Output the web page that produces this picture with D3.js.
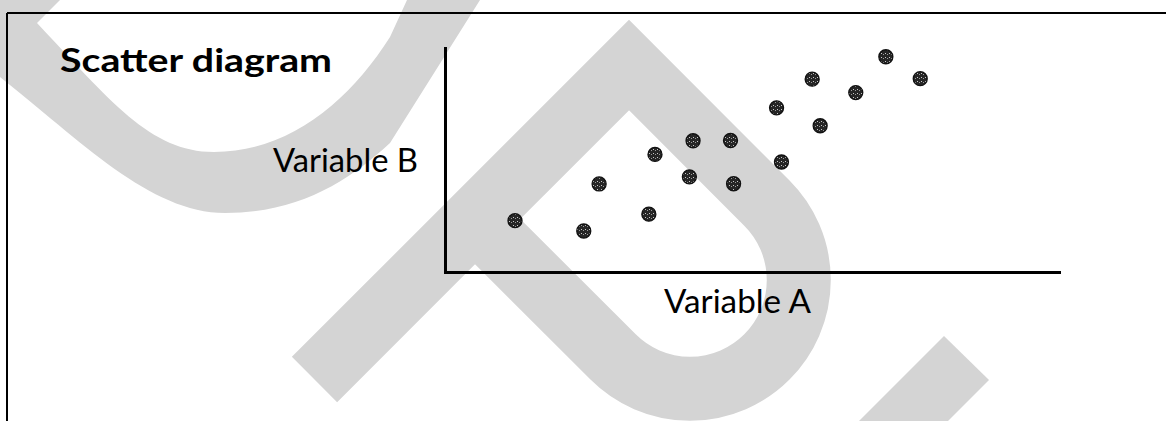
<!DOCTYPE html>
<html>
<head>
<meta charset="utf-8">
<script src="https://cdn.jsdelivr.net/npm/d3@7"></script>
<style>
  html, body { margin: 0; padding: 0; background: #fff; }
  svg { display: block; }
</style>
</head>
<body>
<svg id="chart" width="1166" height="421"></svg>
<script>
// Observations: Variable A (x) and Variable B (y), both on a 0-100 scale
const varA = [11.4, 22.6, 25.1, 33.2, 34.2, 39.8, 40.4, 46.5, 47.0, 54.0, 54.8, 59.8, 61.1, 66.9, 71.8, 77.4];
const varB = [22.9, 18.3, 39.3, 25.8, 52.5, 42.5, 58.6, 58.7, 39.4, 73.3, 49.1, 86.1, 65.3, 80.1, 96.1, 86.3];

const chartTitle = "Scatter diagram";
const xLabel = "Variable A";
const yLabel = "Variable B";

const svg = d3.select("#chart");

// ---- soft grey ribbon shapes in the background ----
const grey = "#d4d4d4";
const ribbon = svg.append("g").attr("fill", grey);

// arc sweeping across the upper left
ribbon.append("path").attr("d",
  "M0,0 L60,0 L37,23 C110,100 150,152 214,152 C290,152 350,100 390,37 L407,0 L480,0 " +
  "L390,143 C350,180 300,213 225,213 C150,213 80,140 0,77 Z");

// looped band: tail, pointed top, rounded bowl, returning stroke
ribbon.append("path")
  .attr("fill", "none")
  .attr("stroke", grey)
  .attr("stroke-width", 64)
  .attr("stroke-linejoin", "miter")
  .attr("stroke-miterlimit", 10)
  .attr("d",
    "M314.5,379.5 L629,65 L766.9,203.1 A108.7,108.7 0 0 1 766.9,356.9 " +
    "A108.7,108.7 0 0 1 613.1,356.9 L475,219");

// short stroke entering at the lower right
ribbon.append("path").attr("d", "M944,336 L989,380 L948,421 L859,421 Z");

// ---- frame ----
svg.append("line").attr("x1", 7).attr("y1", 13).attr("x2", 1166).attr("y2", 13)
  .attr("stroke", "#000").attr("stroke-width", 2);
svg.append("line").attr("x1", 7).attr("y1", 13).attr("x2", 7).attr("y2", 421)
  .attr("stroke", "#000").attr("stroke-width", 2);

// ---- title ----
svg.append("text")
  .attr("x", 60).attr("y", 72)
  .attr("font-family", "Lato, 'Open Sans', sans-serif")
  .attr("font-weight", 700)
  .attr("font-size", 33)
  .attr("textLength", 272)
  .attr("lengthAdjust", "spacingAndGlyphs")
  .attr("fill", "#000")
  .text(chartTitle);

// ---- scales and axes ----
const x = d3.scaleLinear().domain([0, 100]).range([445, 1059]);
const y = d3.scaleLinear().domain([0, 100]).range([272, 48]);

const xAxis = svg.append("g")
  .attr("transform", `translate(0,${y(0)})`)
  .call(d3.axisBottom(x).tickValues([]).tickSizeOuter(0));
const yAxis = svg.append("g")
  .attr("transform", `translate(${x(0)},0)`)
  .call(d3.axisLeft(y).tickValues([]).tickSizeOuter(0));
[xAxis, yAxis].forEach(g => g.select(".domain")
  .attr("stroke", "#000").attr("stroke-width", 3).attr("stroke-linecap", "square"));

// axis titles
svg.append("text")
  .attr("x", 418).attr("y", 172)
  .attr("text-anchor", "end")
  .attr("font-family", "Lato, 'Open Sans', sans-serif")
  .attr("font-size", 32)
  .attr("textLength", 145)
  .attr("lengthAdjust", "spacingAndGlyphs")
  .attr("fill", "#000")
  .text(yLabel);

svg.append("text")
  .attr("x", 664).attr("y", 313)
  .attr("font-family", "Lato, 'Open Sans', sans-serif")
  .attr("font-size", 32)
  .attr("textLength", 147)
  .attr("lengthAdjust", "spacingAndGlyphs")
  .attr("fill", "#000")
  .text(xLabel);

// ---- speckled dot fill ----
const defs = svg.append("defs");
const pat = defs.append("pattern")
  .attr("id", "speckle")
  .attr("patternUnits", "userSpaceOnUse")
  .attr("width", 4).attr("height", 4);
pat.append("rect").attr("width", 4).attr("height", 4).attr("fill", "#262626");
pat.append("rect").attr("x", 1).attr("y", 1).attr("width", 1).attr("height", 1).attr("fill", "#c8c8c8");
pat.append("rect").attr("x", 3).attr("y", 2).attr("width", 1).attr("height", 1).attr("fill", "#9a9a9a");

// ---- points ----
const pts = varA.map((a, i) => ({ a, b: varB[i] }));
svg.append("g").selectAll("circle")
  .data(pts)
  .join("circle")
  .attr("cx", d => x(d.a))
  .attr("cy", d => y(d.b))
  .attr("r", 7)
  .attr("fill", "url(#speckle)")
  .attr("stroke", "#111")
  .attr("stroke-width", 1.3);
</script>
</body>
</html>
